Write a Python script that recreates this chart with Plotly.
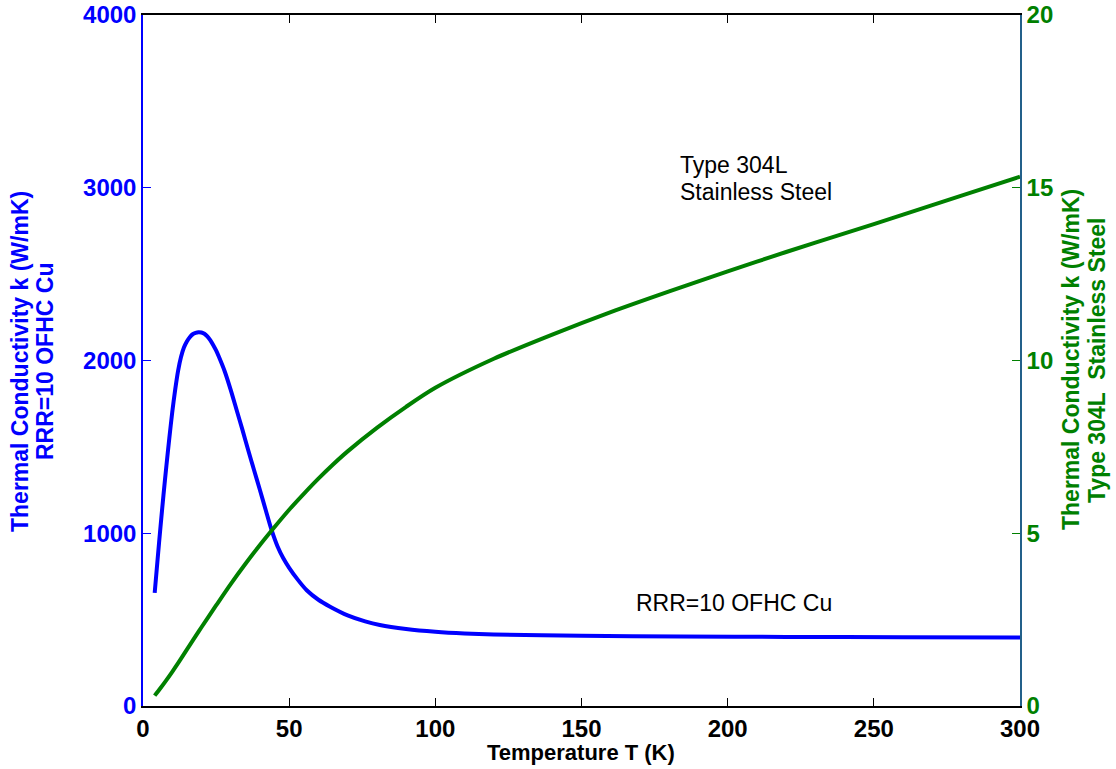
import plotly.graph_objects as go

# Temperature points (K) for copper curve
T_cu = [4, 5, 6, 7, 8, 9, 10, 11, 12, 13, 14, 15, 16, 17, 18, 19, 20, 21, 22, 23, 24, 25,
        26, 28, 30, 32, 34, 36, 38, 40, 42, 44, 46, 48, 50, 53, 56, 60, 64, 70, 76, 81,
        90, 100, 110, 120, 150, 184, 220, 260, 300]
# RRR=10 OFHC Cu thermal conductivity (W/mK)
k_cu = [655, 850, 1040, 1220, 1390, 1550, 1700, 1830, 1940, 2020, 2075, 2110, 2135, 2152,
        2160, 2164, 2162, 2155, 2140, 2118, 2090, 2058, 2020, 1935, 1830, 1715, 1600, 1480,
        1365, 1250, 1133, 1018, 925, 855, 800, 730, 670, 615, 575, 525, 490, 469, 446, 430,
        420, 414, 407, 402, 400, 398, 397]

# Temperature points (K) for stainless steel curve
T_ss = [4, 6, 8, 10, 12, 14, 16, 18, 20, 25, 30, 35, 40, 45, 50, 55, 60, 65, 70, 80, 90,
        100, 120, 140, 160, 180, 200, 220, 240, 260, 280, 300]
# Type 304L stainless steel thermal conductivity (W/mK)
k_ss = [0.30, 0.52, 0.75, 0.99, 1.24, 1.50, 1.76, 2.02, 2.28, 2.91, 3.53, 4.11, 4.66, 5.18,
        5.68, 6.14, 6.58, 6.99, 7.37, 8.05, 8.66, 9.21, 10.05, 10.75, 11.40, 12.00, 12.58,
        13.14, 13.68, 14.22, 14.77, 15.32]

x_ticks = [0, 50, 100, 150, 200, 250, 300]
y1_ticks = [0, 1000, 2000, 3000, 4000]
y2_ticks = [0, 5, 10, 15, 20]

BLUE = "#0000ff"
GREEN = "#008000"
FONT = "Arial, Liberation Sans, sans-serif"

W, H = 1116, 769
L, R, TOP, B = 143, 96, 15, 63
PW, PH = W - L - R, H - TOP - B


def px_x(sx):
    return (sx - L) / PW


def px_y(sy):
    return (H - B - sy) / PH


fig = go.Figure()
fig.add_trace(go.Scatter(x=T_cu, y=k_cu, mode="lines",
                         line=dict(color=BLUE, width=4, shape="spline", smoothing=0.8),
                         name="RRR=10 OFHC Cu", yaxis="y"))
fig.add_trace(go.Scatter(x=T_ss, y=k_ss, mode="lines",
                         line=dict(color=GREEN, width=4, shape="spline", smoothing=0.8),
                         name="Type 304L Stainless Steel", yaxis="y2"))

title_font_b = dict(family=FONT, size=23, color=BLUE, weight="bold")
title_font_g = dict(family=FONT, size=23, color=GREEN, weight="bold")

fig.update_layout(
    width=W, height=H,
    margin=dict(l=L, r=R, t=TOP, b=B, autoexpand=False),
    paper_bgcolor="white", plot_bgcolor="white",
    showlegend=False,
    font=dict(family=FONT, color="black"),
    xaxis=dict(
        range=[0, 300], tickvals=x_ticks, ticks="inside", ticklen=8, tickwidth=1, tickcolor="black",
        showline=True, linecolor="black", linewidth=1.5, mirror="ticks", showgrid=False, zeroline=False,
        tickfont=dict(family=FONT, size=24, color="black", weight="bold"), automargin=False,
        ticklabeloverflow="allow",
    ),
    yaxis=dict(
        range=[0, 4000], tickvals=y1_ticks, ticks="inside", ticklen=8, tickwidth=1, tickcolor=BLUE,
        showline=True, linecolor=BLUE, linewidth=1.5, showgrid=False, zeroline=False,
        tickfont=dict(family=FONT, size=24, color=BLUE, weight="bold"), automargin=False,
        ticklabeloverflow="allow",
    ),
    yaxis2=dict(
        range=[0, 20], tickvals=y2_ticks, ticks="inside", ticklen=8, tickwidth=1, tickcolor=GREEN,
        overlaying="y", side="right", anchor="x",
        showline=True, linecolor="#23608a", linewidth=1.5, showgrid=False, zeroline=False,
        tickfont=dict(family=FONT, size=24, color=GREEN, weight="bold"), automargin=False,
        ticklabeloverflow="allow",
    ),
    annotations=[
        # axis titles
        dict(x=px_x(581), y=px_y(752), xref="paper", yref="paper", text="Temperature T (K)",
             showarrow=False, xanchor="center", yanchor="middle",
             font=dict(family=FONT, size=22, color="black", weight="bold")),
        dict(x=px_x(20), y=px_y(362), xref="paper", yref="paper", text="Thermal Conductivity k (W/mK)",
             showarrow=False, textangle=-90, xanchor="center", yanchor="middle", font=title_font_b),
        dict(x=px_x(45), y=px_y(362), xref="paper", yref="paper", text="RRR=10 OFHC Cu",
             showarrow=False, textangle=-90, xanchor="center", yanchor="middle", font=title_font_b),
        dict(x=px_x(1071), y=px_y(360), xref="paper", yref="paper", text="Thermal Conductivity k (W/mK)",
             showarrow=False, textangle=-90, xanchor="center", yanchor="middle", font=title_font_g),
        dict(x=px_x(1097), y=px_y(360), xref="paper", yref="paper", text="Type 304L  Stainless Steel",
             showarrow=False, textangle=-90, xanchor="center", yanchor="middle", font=title_font_g),
        # curve labels
        dict(x=183.1, y=3131, xref="x", yref="y", text="Type 304L", showarrow=False,
             xanchor="left", yanchor="middle", font=dict(family=FONT, size=23, color="black")),
        dict(x=183.1, y=2975, xref="x", yref="y", text="Stainless Steel", showarrow=False,
             xanchor="left", yanchor="middle", font=dict(family=FONT, size=23, color="black")),
        dict(x=168.1, y=596, xref="x", yref="y", text="RRR=10 OFHC Cu", showarrow=False,
             xanchor="left", yanchor="middle", font=dict(family=FONT, size=23, color="black")),
    ],
)

# remove the browser's default page margin so the figure sits at the window's corner
fig.write_html("out.html",
               config={"displayModeBar": False},
               post_script="document.body.style.margin='0';document.body.style.overflow='hidden';")
